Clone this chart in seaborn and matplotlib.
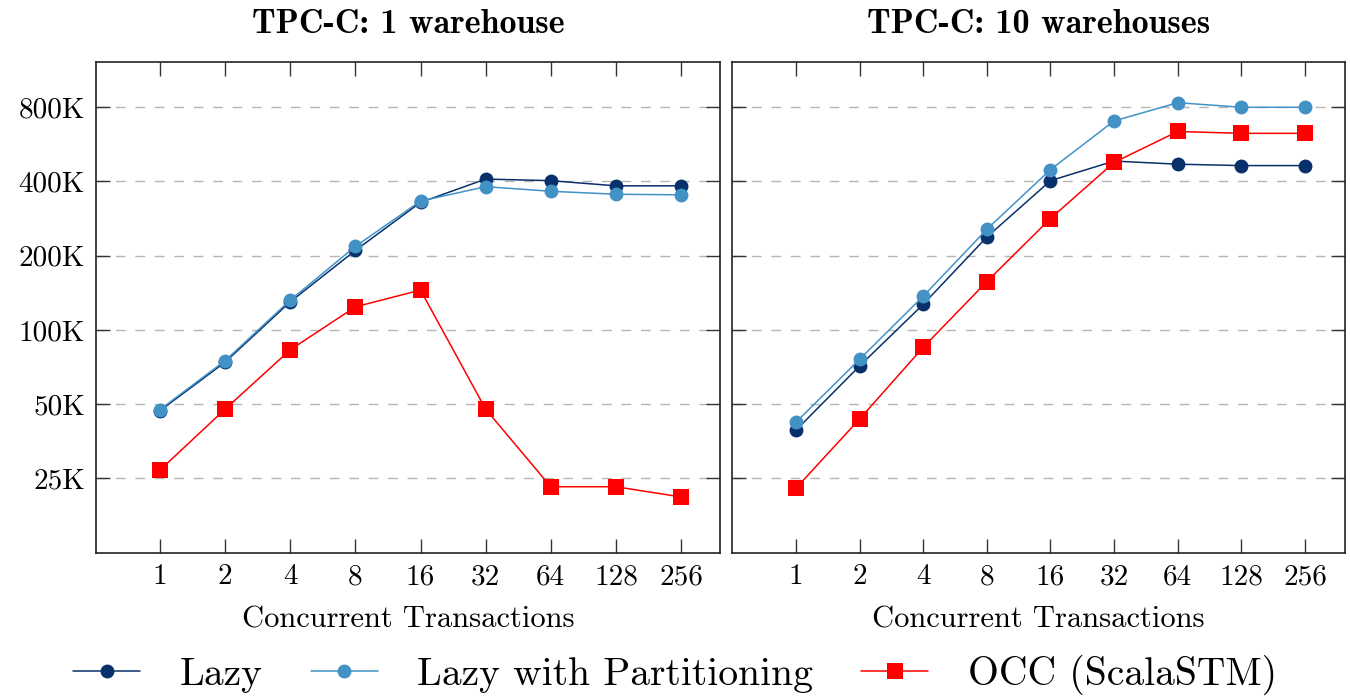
import numpy as np
import pandas as pd
import matplotlib
matplotlib.use("Agg")
import matplotlib.pyplot as plt
import matplotlib.ticker as mticker
import seaborn as sns

# ---------------- data ----------------
threads = [1, 2, 4, 8, 16, 32, 64, 128, 256]
series_names = ["Lazy", "Lazy with Partitioning", "OCC (ScalaSTM)"]

# TPC-C 1 warehouse (transactions / s)
w1_lazy = [47000, 74000, 130000, 210000, 329000, 409000, 403000, 384000, 384000]
w1_part = [47500, 75000, 132000, 218000, 333000, 381000, 365000, 355000, 353000]
w1_occ = [27000, 47700, 83000, 124000, 145000, 47700, 23100, 23100, 21000]

# TPC-C 10 warehouses
w10_lazy = [39200, 71400, 127000, 238000, 403000, 484000, 470000, 464000, 464000]
w10_part = [42200, 76000, 137000, 256000, 447000, 704000, 835000, 800000, 800000]
w10_occ = [22800, 43500, 85000, 157000, 283000, 478000, 638000, 627000, 627000]

titles = ["TPC-C: 1 warehouse", "TPC-C: 10 warehouses"]
x_label = "Concurrent Transactions"
y_ticks = [25000, 50000, 100000, 200000, 400000, 800000]
y_tick_labels = ["25K", "50K", "100K", "200K", "400K", "800K"]
x_tick_labels = ["1", "2", "4", "8", "16", "32", "64", "128", "256"]

colors = {"Lazy": "#08306b", "Lazy with Partitioning": "#4292c6", "OCC (ScalaSTM)": "#ff0000"}
markers = {"Lazy": "o", "Lazy with Partitioning": "o", "OCC (ScalaSTM)": "s"}


def long_frame(lazy, part, occ):
    rows = []
    for name, vals in zip(series_names, [lazy, part, occ]):
        for t, v in zip(threads, vals):
            rows.append({"threads": t, "tps": v, "series": name})
    return pd.DataFrame(rows)


frames = [long_frame(w1_lazy, w1_part, w1_occ), long_frame(w10_lazy, w10_part, w10_occ)]

# ---------------- style ----------------
sns.set_theme(style="white")
plt.rcParams["font.family"] = ["cmr10", "DejaVu Serif"]
plt.rcParams["axes.unicode_minus"] = False
plt.rcParams["text.color"] = "black"
plt.rcParams["axes.labelcolor"] = "black"
plt.rcParams["xtick.color"] = "black"
plt.rcParams["ytick.color"] = "black"

fig = plt.figure(figsize=(13.5, 6.96), dpi=100)
W, H = 1350, 696
boxes = [(96, 720, 62, 553), (732, 1345, 62, 553)]
xlims = [(2 ** -0.983, 2 ** 8.599), (2 ** -1.006, 2 ** 8.629)]

axes = []
for i, (l, r, t, b) in enumerate(boxes):
    ax = fig.add_axes([l / W, 1 - b / H, (r - l) / W, (b - t) / H])
    axes.append(ax)
    sns.lineplot(data=frames[i], x="threads", y="tps", hue="series", style="series",
                 hue_order=series_names, style_order=series_names,
                 palette=colors, markers=markers, dashes=False,
                 linewidth=1.1, markersize=10, markeredgewidth=0, ax=ax, legend=False)
    for ln in ax.lines:
        if ln.get_marker() == "s":
            ln.set_markersize(11)
    ax.set_xscale("log", base=2)
    ax.set_yscale("log", base=2)
    ax.set_xlim(*xlims[i])
    ax.set_ylim(12440, 1221000)
    ax.set_xticks(threads)
    ax.xaxis.set_major_formatter(mticker.FixedFormatter(x_tick_labels))
    ax.xaxis.set_minor_locator(mticker.NullLocator())
    ax.set_yticks(y_ticks)
    ax.yaxis.set_minor_locator(mticker.NullLocator())
    if i == 0:
        ax.yaxis.set_major_formatter(mticker.FixedFormatter(y_tick_labels))
    else:
        ax.yaxis.set_major_formatter(mticker.NullFormatter())
    ax.tick_params(axis="both", which="major", direction="in", length=10, width=1,
                   top=True, right=True, bottom=True, left=True, labelsize=21,
                   color="#333333", labelcolor="black")
    ax.tick_params(axis="x", pad=8)
    ax.tick_params(axis="y", pad=8)
    ax.grid(axis="y", linestyle=(0, (7, 7)), color="#b5b5b5", linewidth=1)
    ax.grid(axis="x", visible=False)
    ax.set_axisbelow(True)
    for sp in ax.spines.values():
        sp.set_visible(True)
        sp.set_color("#222222")
        sp.set_linewidth(1.2)
    ax.set_xlabel(x_label, fontsize=22, labelpad=11, color="black")
    ax.set_ylabel("")
    ax.set_title(titles[i], fontsize=24.5, family=["cmb10", "DejaVu Serif"], pad=21, color="black")

handles = axes[0].lines[:3]
leg = fig.legend(handles, series_names, loc="center", bbox_to_anchor=(0.5, 1 - 675 / H),
                 ncol=3, frameon=False, fontsize=28.5, handlelength=1.7, handletextpad=1.0,
                 columnspacing=1.2, borderaxespad=0)
for txt in leg.get_texts():
    txt.set_color("black")

fig.savefig("out.png", dpi=100)
